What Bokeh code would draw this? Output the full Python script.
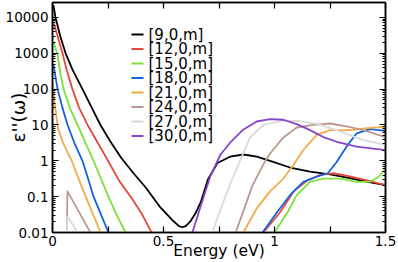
import math
from bokeh.plotting import figure
from bokeh.models import FixedTicker, LinearAxis, LogAxis, Label, BoxAnnotation, Range1d
from bokeh.embed import file_html
from bokeh.resources import INLINE

nan = float("nan")

series_names = ["[9,0,m]", "[12,0,m]", "[15,0,m]", "[18,0,m]",
                "[21,0,m]", "[24,0,m]", "[27,0,m]", "[30,0,m]"]
colors = ["#000000", "#e8483e", "#7fe03a", "#1462e4",
          "#f5aa48", "#bd9891", "#dadada", "#8446c8"]

x_ticks = [0, 0.25, 0.5, 0.75, 1, 1.25, 1.5]
x_tick_labels = ["0", "", "0.5", "", "1", "", "1.5"]
y_ticks = [0.01, 0.1, 1, 10, 100, 1000, 10000]
y_tick_labels = ["0.01", "0.1", "1", "10", "100", "1000", "10000"]

e_9 = [0.004, 0.0135, 0.035, 0.059, 0.09, 0.135, 0.175, 0.216, 0.26, 0.31,
       0.365, 0.42, 0.486, 0.54, 0.57, 0.585, 0.60, 0.62, 0.645, 0.667,
       0.70, 0.743, 0.80, 0.86, 0.92, 0.98, 1.07, 1.16, 1.25, 1.34, 1.42, 1.5]
v_9 = [22000, 10000, 3000, 1000, 350, 100, 32, 10, 3.5, 1.2,
       0.45, 0.18, 0.05, 0.022, 0.015, 0.014, 0.015, 0.02, 0.035, 0.068,
       0.3, 0.87, 1.3, 1.5, 1.3, 1.0, 0.65, 0.5, 0.42, 0.33, 0.26, 0.21]

e_12 = [0.004, 0.02, 0.045, 0.065, 0.09, 0.12, 0.158, 0.2, 0.25, 0.30,
        0.36, 0.40, 0.44, 0.455, nan, 0.94, 0.95, 0.99, 1.027, 1.086,
        1.15, 1.21, 1.266, 1.34, 1.43, 1.5]
v_12 = [7500, 3500, 1000, 320, 100, 30, 10, 3.5, 1.0, 0.28,
        0.085, 0.035, 0.012, 0.008, nan, 0.007, 0.01, 0.02, 0.038, 0.14,
        0.29, 0.41, 0.45, 0.37, 0.27, 0.21]

e_15 = [0.003, 0.012, 0.023, 0.035, 0.05, 0.08, 0.113, 0.15, 0.185, 0.22,
        0.252, 0.29, 0.329, 0.34, nan, 0.99, 1.0, 1.06, 1.10, 1.16,
        1.22, 1.30, 1.37, 1.43, 1.47, 1.5]
v_15 = [2200, 1500, 900, 280, 100, 28, 10, 3, 1, 0.3,
        0.1, 0.03, 0.01, 0.007, nan, 0.007, 0.01, 0.038, 0.11, 0.26,
        0.32, 0.32, 0.26, 0.26, 0.36, 0.61]

e_18 = [0.003, 0.01, 0.023, 0.045, 0.068, 0.1, 0.135, 0.16, 0.185, 0.22,
        0.252, 0.262, nan, 0.93, 0.946, 1.013, 1.07, 1.13, 1.19, 1.24,
        1.28, 1.33, 1.37, 1.43, 1.5]
v_18 = [500, 300, 100, 30, 10, 3, 1, 0.32, 0.1, 0.03,
        0.01, 0.007, nan, 0.006, 0.01, 0.038, 0.11, 0.26, 0.36, 0.45,
        0.93, 2.8, 5.8, 7.7, 6.8]

e_21 = [0.002, 0.008, 0.016, 0.025, 0.045, 0.07, 0.09, 0.13, 0.16, 0.19,
        0.216, 0.225, nan, 0.85, 0.86, 0.92, 0.98, 1.04, 1.086, 1.13,
        1.19, 1.25, 1.34, 1.43, 1.5]
v_21 = [150, 50, 20, 8, 3.5, 1.6, 0.9, 0.2, 0.07, 0.025,
        0.01, 0.007, nan, 0.007, 0.01, 0.047, 0.14, 0.32, 0.78, 2.0,
        5.3, 7.2, 7.2, 8.3, 8.8]

e_24 = [0.064, 0.067, 0.09, 0.12, 0.15, 0.171, 0.18, nan, 0.81, 0.82,
        0.86, 0.90, 0.95, 0.98, 1.04, 1.10, 1.175, 1.25, 1.33, 1.40, 1.5]
v_24 = [0.002, 0.14, 0.079, 0.037, 0.017, 0.01, 0.008, nan, 0.006, 0.008,
        0.04, 0.2, 0.8, 1.6, 4.5, 8.5, 10, 11, 9, 7.2, 4.6]

e_27 = [0.064, 0.067, 0.09, 0.113, 0.125, nan, 0.70, 0.72, 0.76, 0.80,
        0.85, 0.89, 0.95, 1.03, 1.10, 1.19, 1.28, 1.40, 1.5]
v_27 = [0.002, 0.028, 0.017, 0.01, 0.008, nan, 0.006, 0.01, 0.05, 0.22,
        1.2, 4.5, 10, 13, 13, 10.7, 7.2, 3.8, 2.8]

e_30 = [0.61, 0.63, 0.667, 0.71, 0.757, 0.80, 0.86, 0.92, 0.98, 1.04,
        1.10, 1.16, 1.22, 1.28, 1.37, 1.5]
v_30 = [0.005, 0.01, 0.053, 0.36, 1.5, 3.2, 7.5, 12.5, 14.5, 14,
        10.6, 7.2, 4.6, 3.4, 2.5, 2.0]

energies = [e_9, e_12, e_15, e_18, e_21, e_24, e_27, e_30]
values = [v_9, v_12, v_15, v_18, v_21, v_24, v_27, v_30]

FONT = "DejaVu Sans"

p = figure(width=398, height=262, output_backend="svg", toolbar_location=None,
           y_axis_type="log", x_range=Range1d(0, 1.5),
           y_range=Range1d(0.01, 10 ** 4.417),
           min_border_left=52, min_border_right=13, min_border_top=2,
           min_border_bottom=29)
p.background_fill_color = "white"
p.border_fill_color = "white"
p.grid.visible = False
p.outline_line_color = "black"
p.outline_line_width = 1.5

minor_y = [k * 10.0 ** d for d in range(-2, 4) for k in range(2, 10)]
xt = FixedTicker(ticks=x_ticks)
yt = FixedTicker(ticks=y_ticks, minor_ticks=minor_y)

def style_axis(ax, ticker, show_labels):
    ax.ticker = ticker
    ax.axis_line_color = "black"
    ax.axis_line_width = 1.5
    ax.major_tick_in = 6
    ax.major_tick_out = 0
    ax.minor_tick_in = 3
    ax.minor_tick_out = 0
    ax.major_tick_line_color = "black"
    ax.minor_tick_line_color = "black"
    ax.major_tick_line_width = 1.2
    ax.minor_tick_line_width = 1
    if show_labels:
        ax.major_label_text_font = FONT
        ax.major_label_text_font_size = "13.5px"
        ax.major_label_text_color = "black"
        ax.major_label_standoff = 4
        ax.axis_label_text_font = FONT
        ax.axis_label_text_font_style = "normal"
        ax.axis_label_text_color = "black"
    else:
        ax.major_label_text_font_size = "1px"
        ax.major_label_text_color = None
        ax.major_label_standoff = 0

xa = p.xaxis[0]
ya = p.yaxis[0]
style_axis(xa, xt, True)
style_axis(ya, yt, True)
xa.major_label_standoff = 3
xa.major_label_overrides = dict(zip(x_ticks, x_tick_labels))
ya.major_label_overrides = dict(zip(y_ticks, y_tick_labels))

xa.axis_label = "Energy (eV)"
xa.axis_label_text_font_size = "15.5px"
xa.axis_label_standoff = -7
ya.axis_label = "ε''(ω)"
ya.axis_label_text_font_size = "18.5px"
ya.axis_label_standoff = -26

top_ax = LinearAxis()
style_axis(top_ax, xt, False)
p.add_layout(top_ax, "above")
right_ax = LogAxis()
style_axis(right_ax, yt, False)
p.add_layout(right_ax, "right")

for e, v, c in zip(energies, values, colors):
    p.line(e, v, line_color=c, line_width=1.8, line_join="round")

# legend drawn as annotations in screen units (relative to the frame)
for i, (name, col) in enumerate(zip(series_names, colors)):
    yc = 198 - 14.5 * i
    p.add_layout(BoxAnnotation(left=79, right=91, bottom=yc - 1, top=yc + 1,
                               left_units="screen", right_units="screen",
                               bottom_units="screen", top_units="screen",
                               fill_color=col, fill_alpha=1.0, line_color=None))
    p.add_layout(Label(x=96, y=yc, x_units="screen", y_units="screen",
                       text=name, text_font=FONT, text_font_size="15px",
                       text_baseline="middle", text_color="black"))

open("out.html", "w").write(file_html(p, INLINE))
